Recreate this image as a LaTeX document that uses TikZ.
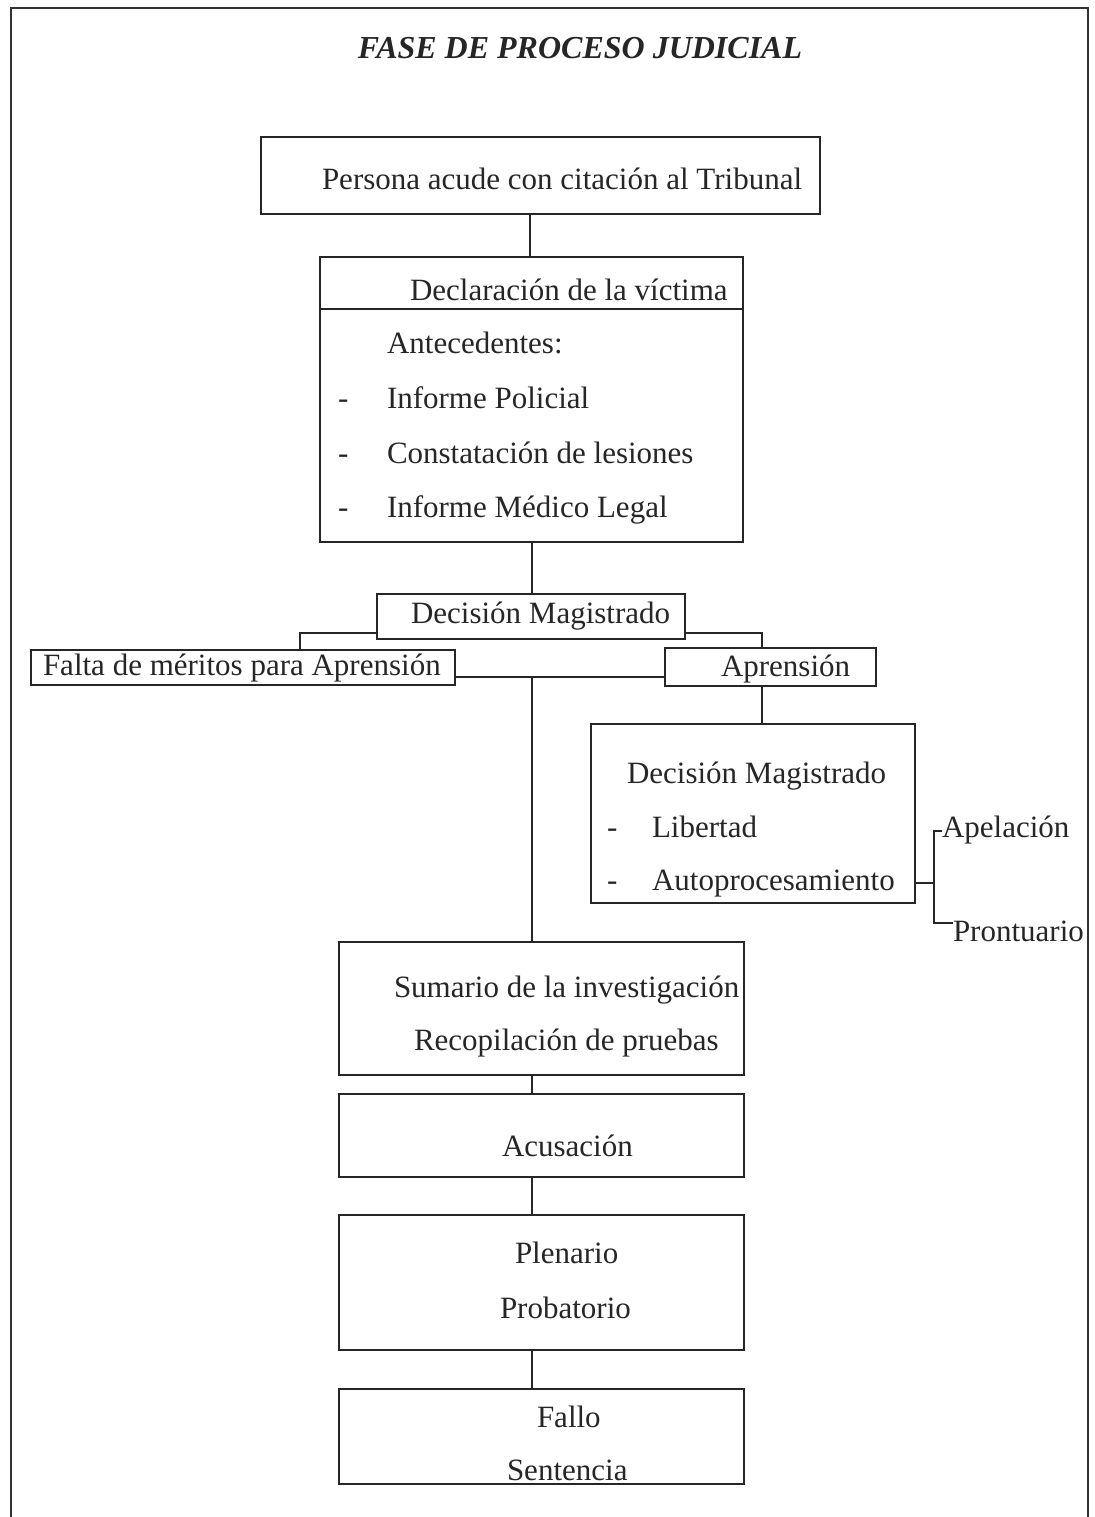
\documentclass[tikz,border=0pt]{standalone}
\usepackage{fontspec}
\setmainfont{Liberation Serif}
\usetikzlibrary{fit}
\begin{document}
\begin{tikzpicture}[x=0.5pt,y=-0.5pt,
  box/.style={draw=black!85, line width=1pt, inner sep=0pt, outer sep=0pt},
  txt/.style={inner sep=0pt, outer sep=0pt, anchor=base west, text=black!85,
    font=\fontsize{15.5pt}{18pt}\selectfont},
  conn/.style={draw=black!85, line width=1pt},
  frame/.style={draw=black!80, line width=1.4pt}]
\useasboundingbox[fill=white] (0,0) rectangle (1095,1517);
% outer frame (open at the bottom)
\draw[frame] (11,1517) -- (11,8) -- (1088,8) -- (1088,1517);
% title
\node[inner sep=0pt, anchor=base, text=black!85, font=\fontsize{16pt}{18pt}\selectfont\bfseries\itshape] (title) at (580,58) {FASE DE PROCESO JUDICIAL};

% boxes
\node[box, fit={(261,137) (820,214)}] (b1) {};
\node[box, fit={(320,257) (743,542)}] (b2) {};
\node[box, fit={(377,594) (685,639)}] (b3) {};
\node[box, fit={(31,650) (455,685)}] (falta) {};
\node[box, fit={(665,648) (876,686)}] (apr) {};
\node[box, fit={(591,724) (915,903)}] (b4) {};
\node[box, fit={(339,942) (744,1075)}] (b5) {};
\node[box, fit={(339,1094) (744,1177)}] (b6) {};
\node[box, fit={(339,1215) (744,1350)}] (b7) {};
\node[box, fit={(339,1389) (744,1484)}] (b8) {};

% texts
\node[txt] (t1) at (322,189) {Persona acude con citación al Tribunal};
\node[txt] (t2) at (410,300) {Declaración de la víctima};
\draw[conn] (b2.west |- 0,309) coordinate (dl) -- (b2.east |- dl);
\node[txt] (t3) at (387,353) {Antecedentes:};
\node[txt] (d1) at (338,408) {-};
\node[txt] (t4) at (387,408) {Informe Policial};
\node[txt] (d2) at (338,463) {-};
\node[txt] (t5) at (387,463) {Constatación de lesiones};
\node[txt] (d3) at (338,517) {-};
\node[txt] (t6) at (387,517) {Informe Médico Legal};

\node[txt] (t7) at (411,623) {Decisión Magistrado};
\node[txt] (t8) at (43,675) {Falta de méritos para Aprensión};
\node[txt] (t9) at (721,676) {Aprensión};

\node[txt] (t10) at (627,783) {Decisión Magistrado};
\node[txt] (d4) at (607,837) {-};
\node[txt] (t11) at (652,837) {Libertad};
\node[txt] (d5) at (607,890) {-};
\node[txt] (t12) at (652,890) {Autoprocesamiento};
\node[txt] (apel) at (942,837) {Apelación};
\node[txt] (pront) at (953,941) {Prontuario};

\node[txt] (t13) at (394,997) {Sumario de la investigación};
\node[txt] (t14) at (414,1050) {Recopilación de pruebas};
\node[txt] (t15) at (502,1156) {Acusación};
\node[txt] (t16) at (515,1263) {Plenario};
\node[txt] (t17) at (500,1318) {Probatorio};
\node[txt] (t18) at (537,1427) {Fallo};
\node[txt] (t19) at (507,1480) {Sentencia};

% connectors
\coordinate (c1) at (530,0);
\draw[conn] (b1.south -| c1) -- (b2.north -| c1);
\coordinate (sp) at (532,677);
\draw[conn] (b2.south -| sp) -- (b3.north -| sp);
\coordinate (jl) at (300,633);
\coordinate (jr) at (762,633);
\draw[conn] (b3.west |- jl) -- (jl) -- (jl |- falta.north);
\draw[conn] (b3.east |- jr) -- (jr) -- (jr |- apr.north);
\draw[conn] (falta.east |- sp) -- (apr.west |- sp);
\draw[conn] (sp) -- (sp |- b5.north);
\draw[conn] (apr.south -| jr) -- (b4.north -| jr);
\coordinate (bk) at (934,883);
\coordinate (bt) at (934,831);
\coordinate (bb) at (934,923);
\draw[conn] (b4.east |- bk) -- (bk);
\draw[conn] (apel.west |- bt) -- (bt) -- (bb) -- (pront.west |- bb);
\draw[conn] (b5.south -| sp) -- (b6.north -| sp);
\draw[conn] (b6.south -| sp) -- (b7.north -| sp);
\draw[conn] (b7.south -| sp) -- (b8.north -| sp);
\end{tikzpicture}
\end{document}
